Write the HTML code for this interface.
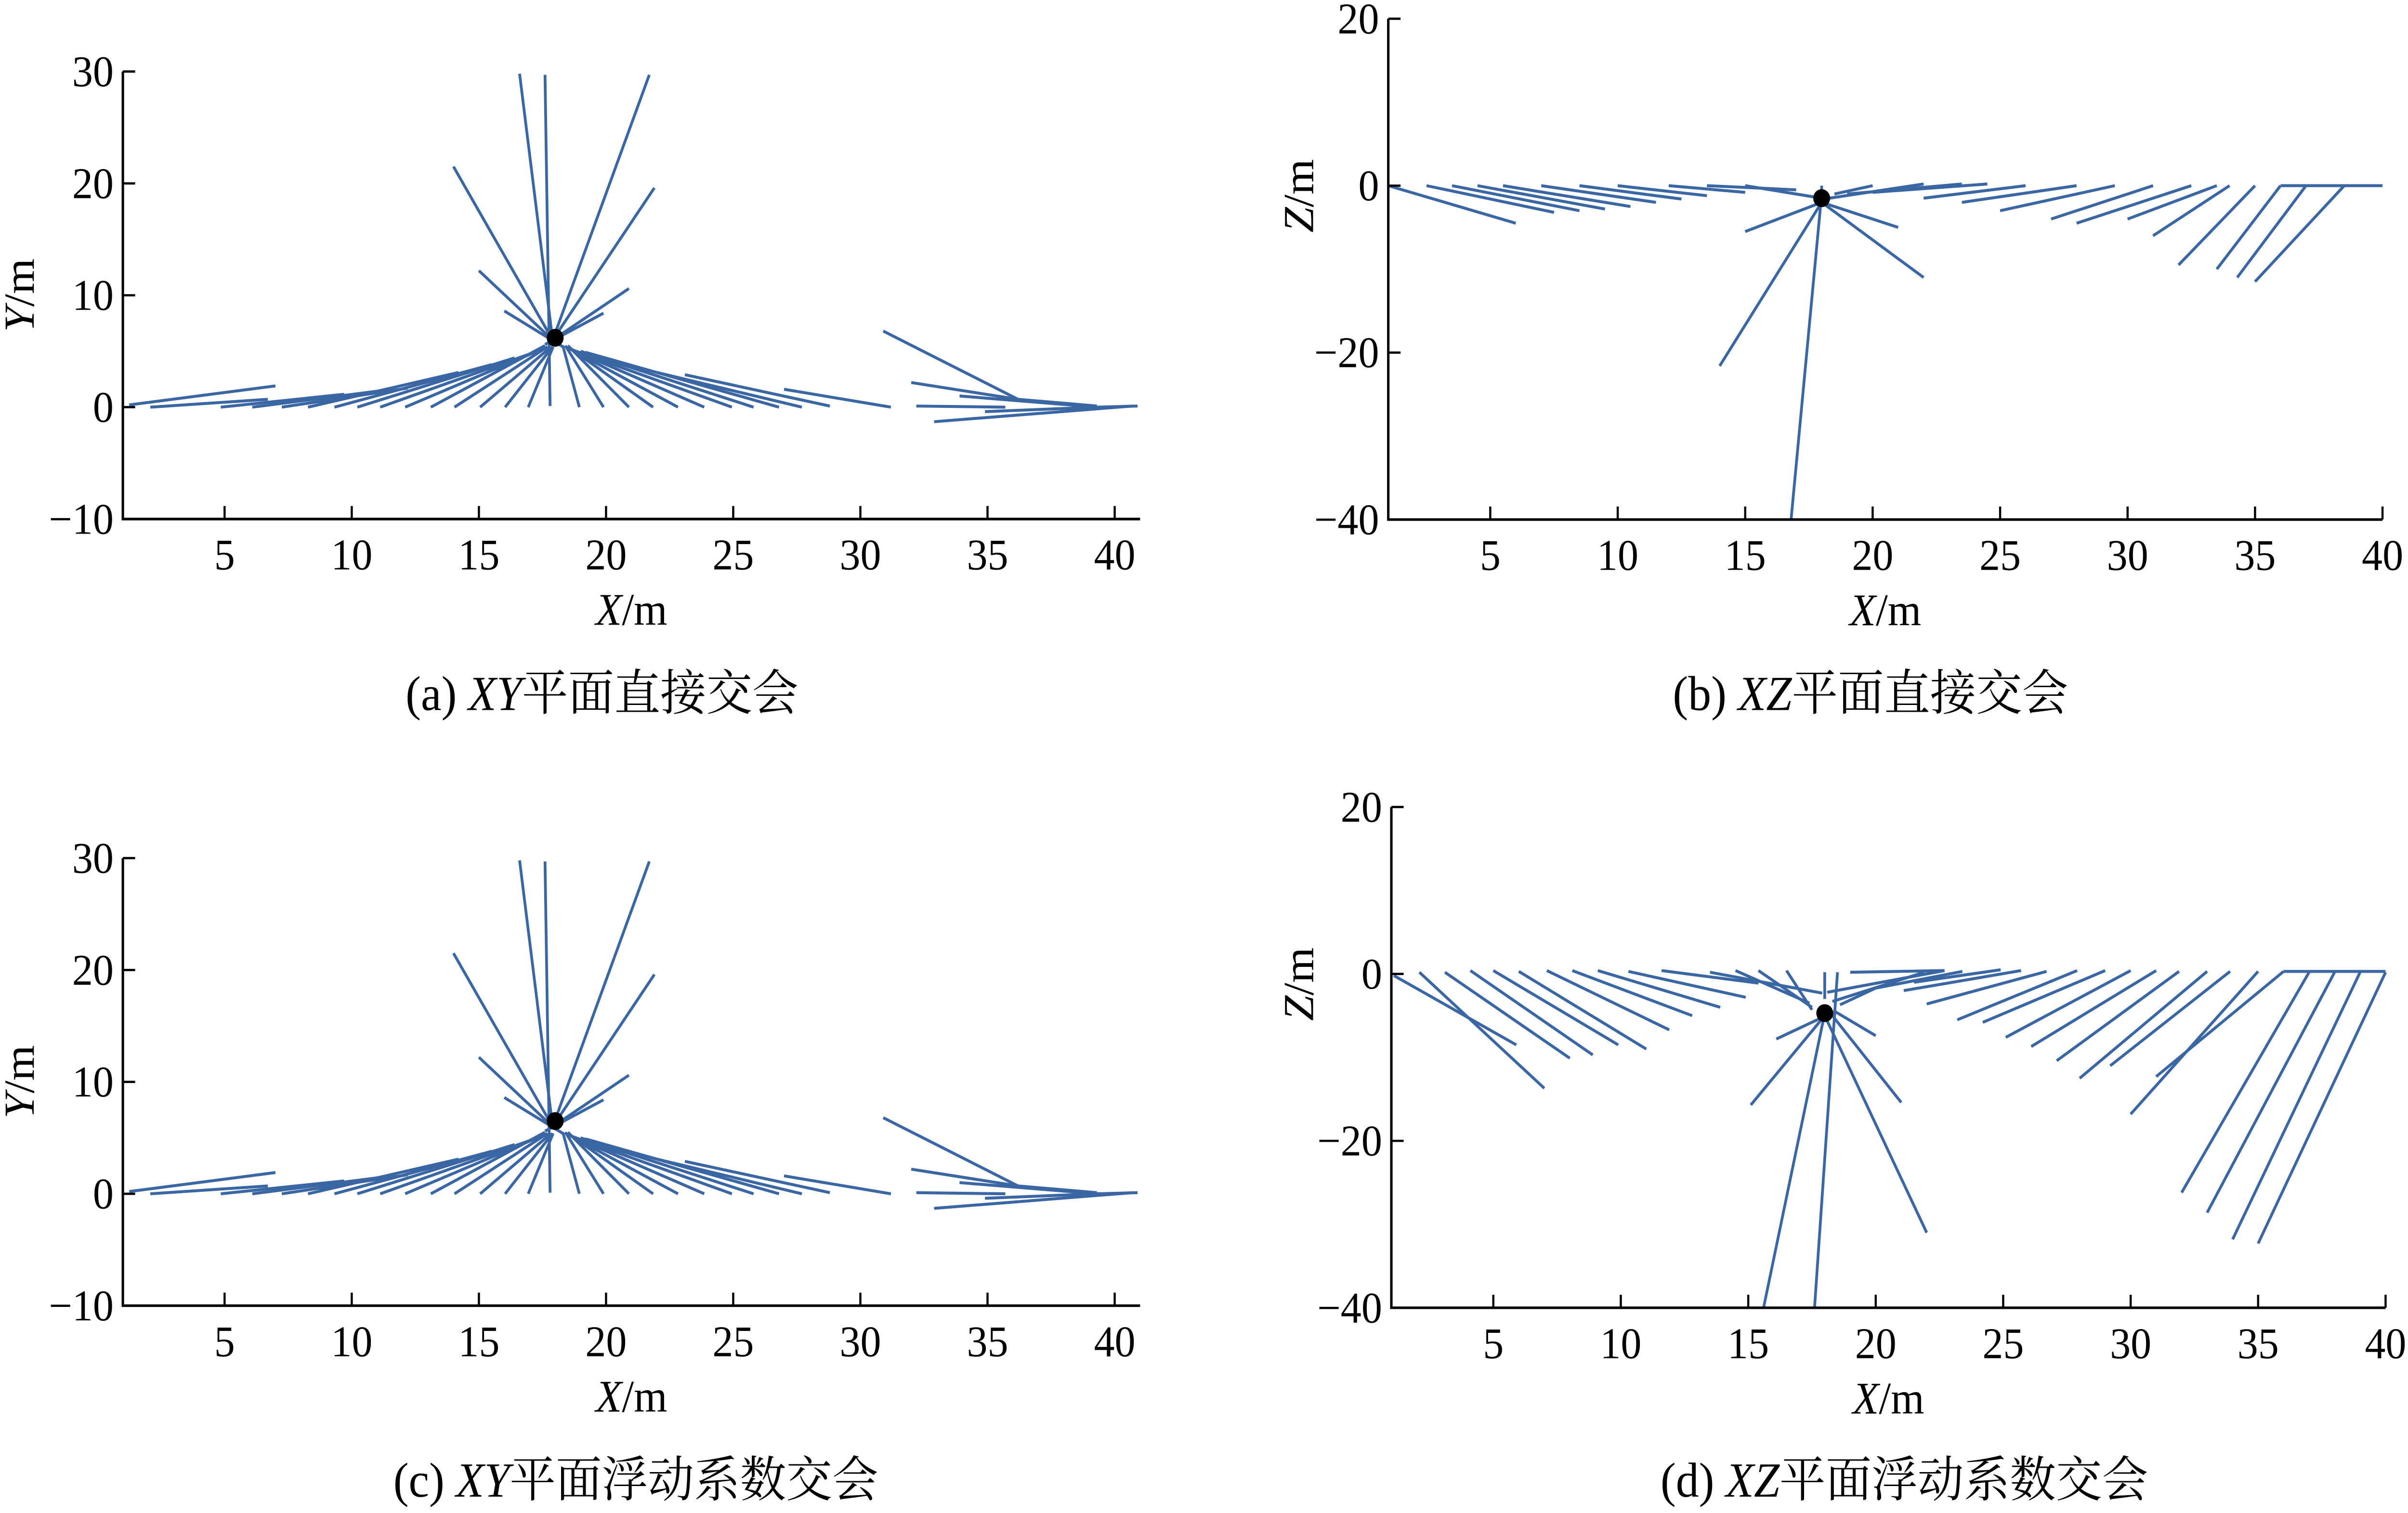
<!DOCTYPE html>
<html><head><meta charset="utf-8"><style>
html,body{margin:0;padding:0;background:#fff;width:100%;height:100%;overflow:hidden;}
svg{display:block;position:absolute;left:0;top:0;width:100vw;height:100vh;font-family:"Liberation Serif","Noto Serif CJK SC","Noto Sans CJK SC",serif;}
</style></head><body>
<svg id="fig" viewBox="0 0 1568 929" preserveAspectRatio="none" xmlns="http://www.w3.org/2000/svg"></svg>
<script>
// ---- data (segments in data units: x1,y1,x2,y2) ----
const segA = [
[16.6,29.8,17.9,6],[17.6,29.7,17.8,0.1],[21.7,29.7,17.9,6],[14,21.5,17.9,6],[21.9,19.6,17.9,6],
[15,12.2,17.9,6],[20.9,10.6,17.9,6],[16,8.6,18.3,5.4],[19.9,8.4,17.6,5.6],
[16.94,0,17.92,5.4],[16.03,0,17.9,5.4],[15.05,0,17.84,5.4],[14.04,0,17.7,5.4],[13.11,0,17.6,5.5],
[12.1,0,17.5,5.2],[11.12,0,17.3,5],[10.22,0,16.4,4.4],[9.32,0,15.5,3.8],[8.28,0,14.2,3.1],
[7.25,0,12.2,1.7],[6.09,0,11.6,1.6],[4.85,0,9.7,1.15],[2.08,0,6.7,0.7],[1.25,0.2,7,1.9],
[18.95,0,18.3,5.5],[19.9,0,18.4,5.5],[20.9,0,18.5,5.5],[21.85,0,18.5,5.4],[22.83,0,18.5,5.3],
[23.86,0,18.6,5.2],[24.95,0,18.7,5.1],[25.8,0,19,5],[26.8,0,19.2,4.9],[27.7,0,22,3.1],
[28.8,0.1,23.1,2.9],[27,1.6,31.2,0],[32.2,0.1,35.7,0],[32,2.2,36.2,0.7],[30.9,6.8,36.2,0.7],
[33.9,1,39.3,0],[36.2,0.7,39.3,0.1],[32.9,-1.3,40.7,0.1],[34.9,-0.4,39.3,0],[39.3,0,40.9,0.1]
];
const centerA = [18,6.2];
const segC = segA.map(s => s.slice());
const centerC = [18,6.5];
const segB = [
[1,0,6,-4.5],[2.5,0,7.5,-3.2],[3.5,0,8.5,-3],[4.5,0,9.5,-2.8],[5.5,0,10.5,-2.5],[7,0,11.5,-2],
[8.5,0,12.5,-1.6],[10,0,13.5,-1.2],[12,0,15,-0.8],[13.5,0,17,-0.5],[15,0,18,-1.5],
[18,-1,16.8,-40],[18,-2,14,-21.6],[18,-2,22,-11],[18,-2,15,-5.5],[18,-2,21,-5],[18,-1,18,0],
[18.5,-1,20,0],[18.3,-1.5,22,0.2],[19,-1,23.5,0.2],[20,-0.8,24.5,0.2],
[26,0,22,-1.5],[28,0,23.5,-2],[29.5,0,25,-3],[31,0,27,-4],[32.5,0,28,-4.5],[33.5,0,30,-4],[34,0,31,-6],
[35,0,32,-9.5],[36,0,33.5,-10],[37,0,34.3,-11],[38.5,0,35,-11.5],[36,0,40,0]
];
const centerB = [18,-1.5];
const segD = [
[1.1,-0.2,5.9,-8.5],[2.1,0.2,7,-13.7],[3.1,0.2,8,-10.1],[4.1,0.4,8.9,-9.7],[5,0.4,9.9,-8.5],
[6,0.3,11,-9],[7.1,0.4,11.9,-6.7],[8.1,0.4,12.8,-5],[9.1,0.4,13.9,-4],[10.3,0.3,14.9,-2.8],
[11.6,0.4,15.4,-1.1],[13.5,0.2,17.9,-2.3],[14.5,0.4,17.4,-3.5],[15.4,0.4,17.5,-4],[16.5,0.4,17.5,-4.3],
[18,0.2,18,-3],[18,-4.7,15.6,-40],[17.6,-40,18.5,0.2],[18,-5,22,-31],[18,-5,15.1,-15.7],[18.3,-5,21,-15.4],
[18.4,-4.5,16.1,-7.8],[18.4,-4.5,20,-7.4],[19,0.2,22.7,0.4],[18.1,-2.2,22.7,0.4],[18.6,-3.7,20,-1.7],
[20,-1.7,23.4,0.3],[18.3,-3.3,21.9,0.2],[21.5,-1,24.9,0.5],[21.1,-2,25.7,0.4],
[26.7,0.3,22,-3.6],[27.9,0.4,23.2,-5.5],[29,0.4,24.2,-5.8],[30,0.4,25.1,-7.6],[31,0.4,26.1,-8.7],
[31.9,0.3,27.1,-10.4],[33,0.3,28,-12.5],[33.9,0.3,29.2,-11],[35,0.3,30,-16.8],[36,0.3,31,-12.3],
[36,0.3,40,0.3],[37,0.2,32,-26.2],[38,0.2,33,-28.6],[39,0.2,34,-31.8],[40,0.2,35,-32.3]
];
const centerD = [18,-4.7];
const xTicks = [5,10,15,20,25,30,35,40];
const yTicksXY = [-10,0,10,20,30];
const yTicksXZ = [-40,-20,0,20];

const NS = "http://www.w3.org/2000/svg";
const svg = document.getElementById('fig');
function mk(tag, attrs, parent){
  const e = document.createElementNS(NS, tag);
  for (const k in attrs) e.setAttribute(k, attrs[k]);
  (parent||svg).appendChild(e);
  return e;
}
function panel(cfg){
  const g = mk('g', {});
  
  
  const X = x => cfg.left + (x - cfg.xmin) * cfg.sx;
  const Y = y => cfg.y0 - y * cfg.sy;
  const right = X(cfg.xmax), bottom = Y(cfg.ymin), top = Y(cfg.ymax);
  cfg.segs.forEach(s => {
    const l = mk('line', {x1:X(s[0]), y1:Y(s[1]), x2:X(s[2]), y2:Y(s[3]), stroke:'#3a67a4', 'stroke-width':1.8}, g);
    
    
  });
  const c = mk('ellipse', {cx:X(cfg.center[0]), cy:Y(cfg.center[1]), rx:5.5, ry:5.5, fill:'#000'}, g);
  
  
  const ax = mk('path', {d:`M${cfg.left},${top}V${bottom}H${right}`, fill:'none', stroke:'#000', 'stroke-width':1.6}, g);
  
  
  xTicks.forEach(t => {
    mk('line', {x1:X(t), y1:bottom, x2:X(t), y2:bottom-8, stroke:'#000', 'stroke-width':1.4}, g);
    const tx = mk('text', {x:X(t), y:bottom+31, 'font-size':27, 'text-anchor':'middle'}, g);
    tx.textContent = t;
    
    
  });
  cfg.yticks.forEach(t => {
    mk('line', {x1:cfg.left, y1:Y(t), x2:cfg.left+8, y2:Y(t), stroke:'#000', 'stroke-width':1.4}, g);
    const tx = mk('text', {x:cfg.left-6, y:Y(t)+9, 'font-size':27, 'text-anchor':'end'}, g);
    tx.textContent = t < 0 ? '\u2212' + (-t) : t;
    
    
  });
  const xt = mk('text', {x:(cfg.left+right)/2, y:bottom+65, 'font-size':28, 'text-anchor':'middle'}, g);
  xt.innerHTML = '<tspan font-style="italic">X</tspan>/m';
  
  
  const ycy = (top+bottom)/2 + cfg.ytOff;
  const yt = mk('text', {x:cfg.ytx, y:ycy, 'font-size':28, 'text-anchor':'middle', transform:`rotate(-90 ${cfg.ytx} ${ycy})`}, g);
  yt.innerHTML = `<tspan font-style="italic">${cfg.yl}</tspan>/m`;
  
  
  const cap = mk('text', {x:cfg.capx, y:cfg.capy, 'font-size':30, 'text-anchor':'middle'}, g);
  cap.innerHTML = cfg.cap;
  
  
}
panel({name:'panel-a-xy-direct', segs:segA, center:centerA, left:80, xmin:1, xmax:41, sx:16.56, y0:250, sy:6.87, ymin:-10, ymax:30, yticks:yTicksXY, yl:'Y', ytx:22, ytOff:0, capx:392, capy:436, cap:'(a)  <tspan font-style="italic">XY</tspan>平面直接交会'});
panel({name:'panel-b-xz-direct', segs:segB, center:centerB, left:904, xmin:1, xmax:40, sx:16.6, y0:114, sy:5.125, ymin:-40, ymax:20, yticks:yTicksXZ, yl:'Z', ytx:855, ytOff:-45, capx:1218, capy:436, cap:'(b)  <tspan font-style="italic">XZ</tspan>平面直接交会'});
panel({name:'panel-c-xy-floating', segs:segC, center:centerC, left:80, xmin:1, xmax:41, sx:16.56, y0:733, sy:6.87, ymin:-10, ymax:30, yticks:yTicksXY, yl:'Y', ytx:22, ytOff:0, capx:414, capy:919, cap:'(c)  <tspan font-style="italic">XY</tspan>平面浮动系数交会'});
panel({name:'panel-d-xz-floating', segs:segD, center:centerD, left:906, xmin:1, xmax:40, sx:16.6, y0:598, sy:5.125, ymin:-40, ymax:20, yticks:yTicksXZ, yl:'Z', ytx:855, ytOff:-45, capx:1240, capy:919, cap:'(d)  <tspan font-style="italic">XZ</tspan>平面浮动系数交会'});
</script>
</body></html>
